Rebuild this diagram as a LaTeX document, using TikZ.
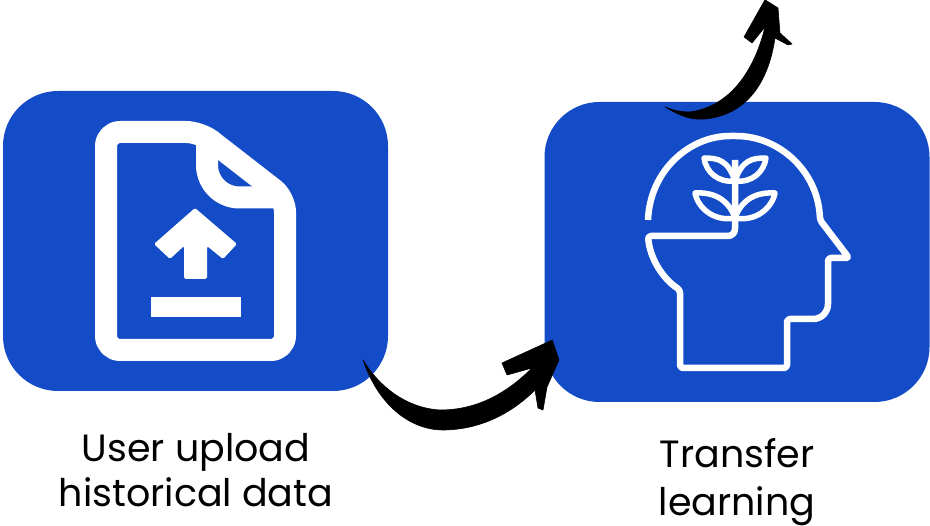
\documentclass[tikz,border=0pt]{standalone}
\usepackage{fontspec}
\setmainfont{Poppins}
\usetikzlibrary{calc}
\definecolor{boxblue}{RGB}{20, 76, 200}
\tikzset{
  bluebox/.style={fill=boxblue, rounded corners=55pt, minimum width=385pt, minimum height=300pt, inner sep=0pt},
  caption/.style={align=center, text=black, inner sep=0pt, font=\fontsize{38}{#1}\selectfont},
  fileline/.style={draw=white, line width=22pt, line join=round},
  headline/.style={draw=white, line width=6.5pt, line join=round, rounded corners=3pt},
  leafline/.style={draw=white, line width=5.5pt, line join=round},
  brush/.style={fill=black, draw=black, line width=0.6pt, line join=round}
}
\begin{document}
\begin{tikzpicture}[x=1pt, y=-1pt]
  \useasboundingbox (0, 0) rectangle (930, 526);

  \node [bluebox] (upload) at (195.5, 241) {};
  \node [bluebox] (transfer) at (737, 252) {};
  \node [caption=45] (uploadtext) at (196, 470) {User upload\\historical data};
  \node [caption=48] (transfertext) at (737, 482) {Transfer\\learning};

  % file icon
  \draw [fileline, rounded corners=14pt] (200, 132) -- (106, 132) -- (106, 350) -- (285, 350) -- (285, 198) -- cycle;
  \draw [fileline] (207, 132) -- (207, 165) arc (180:90:32.5) -- (285, 197.5);
  \fill [white, rounded corners=1.5pt] (195, 208) -- (154, 244) -- (170, 259) -- (184, 246) -- (184, 279) -- (207, 279) -- (207, 246) -- (223, 259) -- (237, 244) -- cycle;
  \fill [white] (151, 297) rectangle (241, 317);

  % head icon
  \draw [headline] (648, 220) .. controls (650, 170) and (690, 136) .. (733, 136) .. controls (780, 136) and (818, 172) .. (820, 220)
    -- (849, 258) -- (828, 258) [rounded corners=15pt] -- (828, 319) [rounded corners=3pt] -- (787, 319) -- (787, 368) -- (680, 368) -- (680, 290)
    .. controls (662, 278) and (650, 258) .. (648, 236) [rounded corners=7pt] -- (735, 236) [rounded corners=3pt] -- (735, 160);

  % plant leaves
  \draw [leafline] (735, 181) .. controls (728, 160) and (718, 158) .. (704, 158) .. controls (706, 172) and (718, 183) .. (735, 181);
  \draw [leafline] (735, 181) .. controls (742, 160) and (752, 158) .. (766, 158) .. controls (764, 172) and (752, 183) .. (735, 181);
  \draw [leafline] (735, 218) .. controls (728, 198) and (712, 192) .. (695, 193) .. controls (698, 208) and (714, 222) .. (735, 218);
  \draw [leafline] (735, 218) .. controls (742, 198) and (758, 192) .. (775, 193) .. controls (772, 208) and (756, 222) .. (735, 218);

  % arrows
  \coordinate (tailup) at ($(upload.south east)+(-25, -31)$);
  \coordinate (tipup) at ($(transfer.west)+(8, 88)$);
  \coordinate (tailtr) at ($(transfer.north)+(-72, 5)$);
  \coordinate (tiptr) at ($(transfer.north)+(28, -102)$);

  \fill [brush] (tailup) .. controls (380, 410) and (415, 431) .. (445, 430) .. controls (485, 429) and (515, 410) .. (535, 390)
    -- (538, 408) -- (543, 410) -- (547, 387) -- (559, 360) -- (tipup) -- (502, 363) -- (507, 375) -- (532, 368)
    .. controls (505, 395) and (475, 410) .. (440, 410) .. controls (405, 408) and (378, 385) .. (tailup) -- cycle;
  \fill [brush] (tailtr) .. controls (680, 116) and (690, 120) .. (705, 119) .. controls (745, 115) and (768, 85) .. (775, 38)
    -- (788, 45) -- (792, 44) -- (780, 33) -- (778, 8) -- (tiptr) -- (744, 37) -- (752, 43) -- (765, 27)
    .. controls (755, 68) and (732, 106) .. (690, 112) .. controls (680, 112) and (672, 110) .. (tailtr) -- cycle;
\end{tikzpicture}
\end{document}
